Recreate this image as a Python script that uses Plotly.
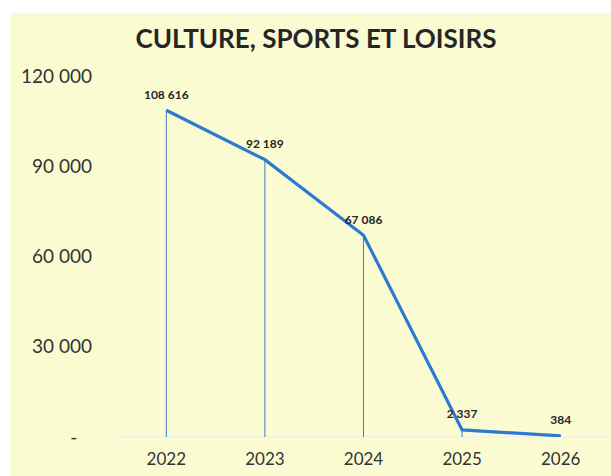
import plotly.graph_objects as go

years = ["2022", "2023", "2024", "2025", "2026"]
values = [108616, 92189, 67086, 2337, 384]
value_labels = ["108 616", "92 189", "67 086", "2 337", "384"]
ytick_vals = [0, 30000, 60000, 90000, 120000]
ytick_text = ["-\u00a0\u00a0\u00a0", "30 000", "60 000", "90 000", "120 000"]
title_text = "CULTURE, SPORTS ET LOISIRS"

fig = go.Figure()
# drop lines from each point down to the axis, via error bars
fig.add_trace(go.Scatter(x=years, y=values, mode="markers",
                         marker=dict(size=1, opacity=0),
                         error_y=dict(type="data", symmetric=False,
                                      array=[0] * len(values), arrayminus=values,
                                      width=0, thickness=1, color="#3a7cc8"),
                         hoverinfo="skip", showlegend=False))
fig.add_trace(go.Scatter(x=years, y=values, mode="lines+markers+text",
                         text=value_labels, textposition="top center",
                         marker=dict(size=12, opacity=0),
                         textfont=dict(family="Lato", size=12, color="#262626",
                                       weight="bold"),
                         line=dict(color="#2b7ad2", width=3.2),
                         showlegend=False))

L, R, T, B = 117, 1, 76, 39
W, H = 611, 476
pw, ph = W - L - R, H - T - B
fig.add_shape(type="rect", xref="paper", yref="paper",
              x0=(10 - L) / pw, x1=(W - L) / pw + 0.01,
              y0=-(B) / ph - 0.01, y1=(H - B - 13) / ph,
              fillcolor="#fbfbd2", line=dict(width=0), layer="below")

fig.update_layout(
    width=W, height=H,
    margin=dict(l=L, r=R, t=T, b=B),
    paper_bgcolor="white", plot_bgcolor="rgba(0,0,0,0)",
    title=dict(text="<b>" + title_text + "</b>", x=(316) / W, xanchor="center",
               y=(H - 39) / H, yanchor="middle", automargin=False,
               font=dict(family="Lato", size=26, color="#262626")),
    xaxis=dict(type="category", range=[-0.5, 4.5], showgrid=False,
               showline=False, zeroline=False, automargin=False,
               tickfont=dict(family="Lato", size=17, color="#333333"),
               ticks="", ticklabelstandoff=10),
    yaxis=dict(range=[0, 120000], tickvals=ytick_vals, ticktext=ytick_text,
               showgrid=False, zeroline=True, zerolinecolor="#f2f2ea",
               zerolinewidth=2, showline=False, automargin=False,
               tickfont=dict(family="Lato", size=19, color="#333333"),
               ticklabelstandoff=24),
    font=dict(family="Lato"),
)

fig.write_html("out.html", config={"displayModeBar": False},
               post_script="document.body.style.margin='0';document.body.style.overflow='hidden';")
